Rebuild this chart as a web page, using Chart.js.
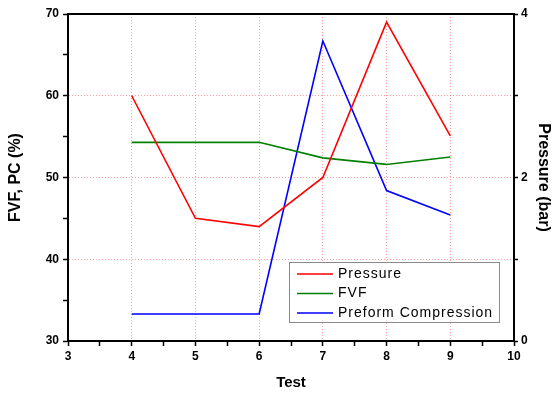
<!DOCTYPE html>
<html>
<head>
<meta charset="utf-8">
<script src="https://cdn.jsdelivr.net/npm/chart.js@4"></script>
<style>
  html, body { margin: 0; padding: 0; background: #fff; }
  #wrap { width: 553px; height: 395px; }
</style>
</head>
<body>
<div id="wrap"><canvas id="chart" width="553" height="395"></canvas></div>
<script>
// dane
const tests = [4, 5, 6, 7, 8, 9];
const pressure = [3.0, 1.5, 1.4, 2.0, 3.9, 2.51];     // bar, prawa oś
const fvf = [54.3, 54.3, 54.3, 52.4, 51.6, 52.5];     // %, lewa oś
const preform = [33.3, 33.3, 33.3, 66.7, 48.4, 45.4]; // %, lewa oś

const xTickLabels = [3, 4, 5, 6, 7, 8, 9, 10];
const leftTickLabels = [30, 40, 50, 60, 70];
const rightTickLabels = [0, 2, 4];

const gridCol = 'rgba(255, 70, 70, 0.5)';
const tickFont = { family: 'Liberation Sans, Arial', size: 12, weight: 'bold' };
const titleFont = { family: 'Liberation Sans, Arial', size: 16, weight: 'bold' };

const pts = (vals) => tests.map((t, i) => ({ x: t, y: vals[i] }));

// ramka: górna linia
const framePlugin = {
    id: 'frame',
    afterDraw(chart) {
        const { ctx, chartArea: a } = chart;
        ctx.save();
        ctx.strokeStyle = '#000';
        ctx.lineWidth = 2;
        ctx.beginPath();
        ctx.moveTo(a.left - 1, a.top);
        ctx.lineTo(a.right + 1, a.top);
        ctx.stroke();
        ctx.restore();
    }
};

// legenda wewnątrz obszaru wykresu
const boxLegend = {
    id: 'boxLegend',
    afterDatasetsDraw(chart) {
        const { ctx, chartArea: a } = chart;
        const x0 = a.left + 221, y0 = a.top + 248, w = 210, h = 60;
        ctx.save();
        ctx.fillStyle = '#fff';
        ctx.fillRect(x0, y0, w, h);
        ctx.strokeStyle = '#8a8a8a';
        ctx.lineWidth = 1;
        ctx.strokeRect(x0 + 0.5, y0 + 0.5, w, h);
        ctx.font = '14px Liberation Sans, Arial';
        ctx.letterSpacing = '1px';
        ctx.textBaseline = 'middle';
        chart.data.datasets.forEach((ds, i) => {
            const y = y0 + 12 + i * 19.5;
            ctx.strokeStyle = ds.borderColor;
            ctx.lineWidth = 1.5;
            ctx.beginPath();
            ctx.moveTo(x0 + 8, y);
            ctx.lineTo(x0 + 44, y);
            ctx.stroke();
            ctx.fillStyle = '#000';
            ctx.fillText(ds.label, x0 + 49, y);
        });
        ctx.restore();
    }
};

const xGrid = (c) => (c.tick && Number.isInteger(c.tick.value) && c.tick.value > 3 && c.tick.value < 10) ? gridCol : 'rgba(0,0,0,0)';
const yGrid = (c) => (c.tick && c.tick.value % 10 === 0 && c.tick.value > 30 && c.tick.value < 70) ? gridCol : 'rgba(0,0,0,0)';

new Chart(document.getElementById('chart'), {
    type: 'line',
    data: {
        datasets: [
            { label: 'Pressure', data: pts(pressure), yAxisID: 'y1', borderColor: '#ff0000', borderWidth: 1.6, pointRadius: 0, tension: 0 },
            { label: 'FVF', data: pts(fvf), yAxisID: 'y', borderColor: '#008000', borderWidth: 1.6, pointRadius: 0, tension: 0 },
            { label: 'Preform Compression', data: pts(preform), yAxisID: 'y', borderColor: '#0000ff', borderWidth: 1.6, pointRadius: 0, tension: 0 }
        ]
    },
    options: {
        responsive: false,
        animation: false,
        layout: { padding: { top: 14, left: 0, right: 0, bottom: 0 } },
        plugins: { legend: { display: false }, tooltip: { enabled: false } },
        scales: {
            x: {
                type: 'linear',
                min: xTickLabels[0], max: xTickLabels[xTickLabels.length - 1],
                afterFit: (s) => { s.height = 54; },
                ticks: {
                    stepSize: 0.5, autoSkip: false, maxRotation: 0, padding: 3,
                    color: '#000', font: tickFont,
                    callback: (v) => xTickLabels.includes(v) ? String(v) : ''
                },
                grid: {
                    color: xGrid, lineWidth: 1,
                    tickColor: '#000', tickLength: 5, tickWidth: 1.5, tickBorderDash: []
                },
                border: { color: '#000', width: 2, dash: [1, 2] },
                title: { display: true, text: 'Test', color: '#000', font: { ...titleFont, size: 15 }, padding: { top: 0, bottom: 3 } }
            },
            y: {
                position: 'left',
                min: 30, max: 70,
                afterFit: (s) => { s.width = 68; },
                ticks: {
                    stepSize: 5, autoSkip: false, padding: 4,
                    color: '#000', font: tickFont,
                    callback: (v) => leftTickLabels.includes(v) ? String(v) : ''
                },
                grid: {
                    color: yGrid, lineWidth: 1,
                    tickColor: '#000', tickLength: 5, tickWidth: 1.5, tickBorderDash: []
                },
                border: { color: '#000', width: 2, dash: [1, 2] },
                title: { display: true, text: 'FVF, PC (%)', color: '#000', font: titleFont, padding: { top: 6, bottom: 0 } }
            },
            y1: {
                position: 'right',
                min: 0, max: 4,
                afterFit: (s) => { s.width = 39; },
                ticks: {
                    stepSize: 1, autoSkip: false, padding: 3,
                    color: '#000', font: tickFont,
                    callback: (v) => rightTickLabels.includes(v) ? String(v) : ''
                },
                grid: {
                    drawOnChartArea: false,
                    tickColor: '#000', tickLength: 4, tickWidth: 1.5
                },
                border: { color: '#000', width: 2 },
                title: { display: true, text: 'Pressure (bar)', color: '#000', font: titleFont, padding: { top: 0, bottom: 0 } }
            }
        }
    },
    plugins: [framePlugin, boxLegend]
});
</script>
</body>
</html>
